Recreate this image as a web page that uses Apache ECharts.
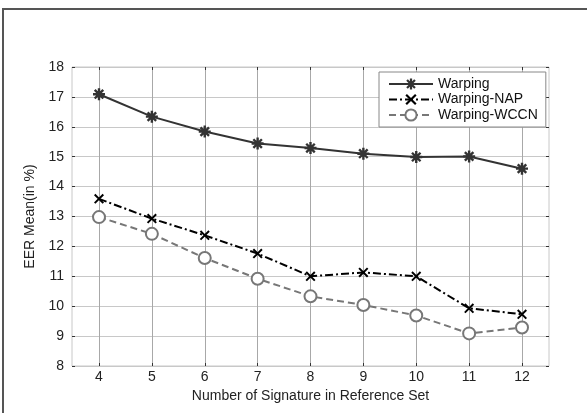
<!DOCTYPE html>
<html>
<head>
<meta charset="utf-8">
<script src="https://cdn.jsdelivr.net/npm/echarts@6/dist/echarts.min.js"></script>
<style>html,body{margin:0;padding:0;background:#fff}#c{width:587px;height:413px}</style>
</head>
<body>
<div id="c"></div>
<script>
var xValues = [4, 5, 6, 7, 8, 9, 10, 11, 12];
var warping = [17.09, 16.34, 15.84, 15.44, 15.29, 15.1, 14.99, 15.01, 14.6];
var warpingNAP = [13.59, 12.93, 12.37, 11.76, 11.0, 11.13, 11.0, 9.93, 9.73];
var warpingWCCN = [12.98, 12.42, 11.61, 10.92, 10.33, 10.04, 9.69, 9.09, 9.29];
var seriesNames = ['Warping', 'Warping-NAP', 'Warping-WCCN'];

function pairs(vals) { return xValues.map(function (x, i) { return [x, vals[i]]; }); }

var asterisk = 'path://M8 0H12V20H8ZM0 8H20V12H0ZM1.5 4.3L4.3 1.5L18.5 15.7L15.7 18.5ZM15.7 1.5L18.5 4.3L4.3 18.5L1.5 15.7Z';
var cross = 'path://M1 3.5L3.5 1L19 16.5L16.5 19ZM16.5 1L19 3.5L3.5 19L1 16.5Z';

var font = 'Liberation Sans, Arial, sans-serif';
var chart = echarts.init(document.getElementById('c'));
var G = {top: 67, bottom: 47};
chart.setOption({
  animation: false,
  backgroundColor: '#fff',
  textStyle: {fontFamily: font},
  graphic: [
    {type: 'line', shape: {x1: 2, y1: 9, x2: 587, y2: 9}, style: {stroke: '#555', lineWidth: 2}},
    {type: 'line', shape: {x1: 3, y1: 9, x2: 3, y2: 413}, style: {stroke: '#555', lineWidth: 2}}
  ],
  grid: [
    {left: 72, right: 38, top: G.top, bottom: G.bottom, show: true, borderColor: '#c8c8c8', borderWidth: 1},
    {left: 99, right: 65, top: G.top, bottom: G.bottom}
  ],
  xAxis: [
    {gridIndex: 0, type: 'value', min: 3.5, max: 12.5, show: false},
    {gridIndex: 1, type: 'value', min: 4, max: 12, interval: 1, position: 'bottom',
     name: 'Number of Signature in Reference Set', nameLocation: 'middle', nameGap: 20,
     nameTextStyle: {fontSize: 14, color: '#222', fontFamily: font},
     axisLine: {show: false},
     axisTick: {show: true, inside: true, length: 3, lineStyle: {color: '#333'}},
     axisLabel: {fontSize: 14, color: '#222', margin: 4, fontFamily: font},
     splitLine: {show: true, lineStyle: {color: '#a8a8a8', width: 1}}},
    {gridIndex: 1, type: 'value', min: 4, max: 12, interval: 1, position: 'top',
     axisLine: {show: false},
     axisTick: {show: true, inside: true, length: 3, lineStyle: {color: '#333'}},
     axisLabel: {show: false}, splitLine: {show: false}}
  ],
  yAxis: [
    {gridIndex: 0, type: 'value', min: 8, max: 18, interval: 1, position: 'left',
     name: 'EER Mean(in %)', nameLocation: 'middle', nameGap: 33,
     nameTextStyle: {fontSize: 14, color: '#222', fontFamily: font},
     axisLine: {show: false},
     axisTick: {show: true, inside: true, length: 3, lineStyle: {color: '#333'}},
     axisLabel: {fontSize: 14, color: '#222', margin: 8, fontFamily: font},
     splitLine: {show: true, lineStyle: {color: '#c8c8c8', width: 1}}},
    {gridIndex: 0, type: 'value', min: 8, max: 18, interval: 1, position: 'right',
     axisLine: {show: false},
     axisTick: {show: true, inside: true, length: 3, lineStyle: {color: '#333'}},
     axisLabel: {show: false}, splitLine: {show: false}},
    {gridIndex: 1, type: 'value', min: 8, max: 18, show: false}
  ],
  legend: {
    orient: 'vertical', left: 379, top: 72,
    padding: [5, 8, 5, 9], itemGap: 1.5, itemWidth: 44, itemHeight: 14,
    backgroundColor: '#fff', borderColor: '#888', borderWidth: 1,
    textStyle: {fontSize: 14, color: '#111', fontFamily: font},
    data: seriesNames
  },
  series: [
    {name: seriesNames[0], type: 'line', xAxisIndex: 1, yAxisIndex: 2, data: pairs(warping),
     symbol: asterisk, symbolSize: 12, color: '#333',
     lineStyle: {color: '#333', width: 2}, itemStyle: {color: '#333'}},
    {name: seriesNames[1], type: 'line', xAxisIndex: 1, yAxisIndex: 2, data: pairs(warpingNAP),
     symbol: cross, symbolSize: 10, color: '#000',
     lineStyle: {color: '#000', width: 2, type: [8, 3, 2, 3]}, itemStyle: {color: '#000'}},
    {name: seriesNames[2], type: 'line', xAxisIndex: 1, yAxisIndex: 2, data: pairs(warpingWCCN),
     symbol: 'circle', symbolSize: 12, color: '#777',
     lineStyle: {color: '#777', width: 2, type: [7, 4]},
     itemStyle: {color: '#fff', borderColor: '#777', borderWidth: 2}}
  ]
});
</script>
</body>
</html>
